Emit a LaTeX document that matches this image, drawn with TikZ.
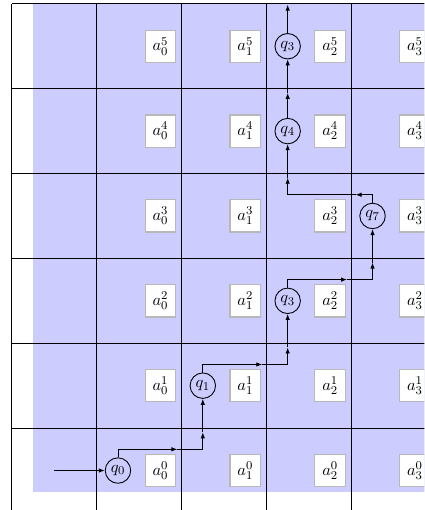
\documentclass[tikz,border=0pt]{standalone}
\usetikzlibrary{arrows.meta}
\begin{document}
\begin{tikzpicture}[
  font=\fontsize{11pt}{13pt}\selectfont,
  abox/.style={draw=black!28, fill=white, line width=0.8pt, minimum width=0.72cm, minimum height=0.76cm, inner sep=1pt},
  qstate/.style={draw, circle, line width=0.6pt, minimum size=0.6cm, inner sep=0pt},
  arr/.style={line width=0.6pt, -{Latex[length=4pt,width=3pt]}},
  gridline/.style={line width=0.8pt}
]
\useasboundingbox (-0.28,-1.93) rectangle (9.72,10.09);
\clip (-0.28,-1.93) rectangle (9.72,10.09);
\fill[blue!20] (0.5,-1.5) rectangle (10,10);
\foreach \x in {0,2,4,6,8} \draw[gridline] (\x,-2.5) -- (\x,10);
\foreach \y in {0,2,...,10} \draw[gridline] (0,\y) -- (10.5,\y);
\foreach \i in {0,...,5} \foreach \j in {0,...,3}
  \node[abox] (a\j\i) at (2*\j+3.5, 2*\i-1) {$a_{\j}^{\i}$};
\node[qstate] (q0) at (2.5,-1) {$q_0$};
\node[qstate] (q1) at (4.5,1) {$q_1$};
\node[qstate] (q3a) at (6.5,3) {$q_3$};
\node[qstate] (q7) at (8.5,5) {$q_7$};
\node[qstate] (q4) at (6.5,7) {$q_4$};
\node[qstate] (q3b) at (6.5,9) {$q_3$};
\coordinate (start) at (1,-1);
\draw[arr] (start) -- (q0);
% q0 -> q1
\coordinate (h1) at (3.9,-0.5); \coordinate (v1) at (4.5,-0.1);
\draw[arr] (q0.north) |- (h1);
\draw[arr] (h1) -| (v1);
\draw[arr] (v1) -- (q1);
% q1 -> q3
\coordinate (h2) at (5.9,1.5); \coordinate (v2) at (6.5,1.9);
\draw[arr] (q1.north) |- (h2);
\draw[arr] (h2) -| (v2);
\draw[arr] (v2) -- (q3a);
% q3 -> q7
\coordinate (h3) at (7.9,3.5); \coordinate (v3) at (8.5,3.9);
\draw[arr] (q3a.north) |- (h3);
\draw[arr] (h3) -| (v3);
\draw[arr] (v3) -- (q7);
% q7 -> q4
\coordinate (h4) at (8.1,5.5); \coordinate (v4) at (6.5,5.9);
\draw[arr] (q7.north) |- (h4);
\draw[arr] (h4) -| (v4);
\draw[arr] (v4) -- (q4);
% q4 -> q3
\coordinate (v5) at (6.5,7.9);
\draw[arr] (q4.north) -- (v5);
\draw[arr] (v5) -- (q3b);
% q3 -> top
\coordinate (top) at (6.5,9.98);
\draw[arr] (q3b.north) -- (top);
\end{tikzpicture}
\end{document}
